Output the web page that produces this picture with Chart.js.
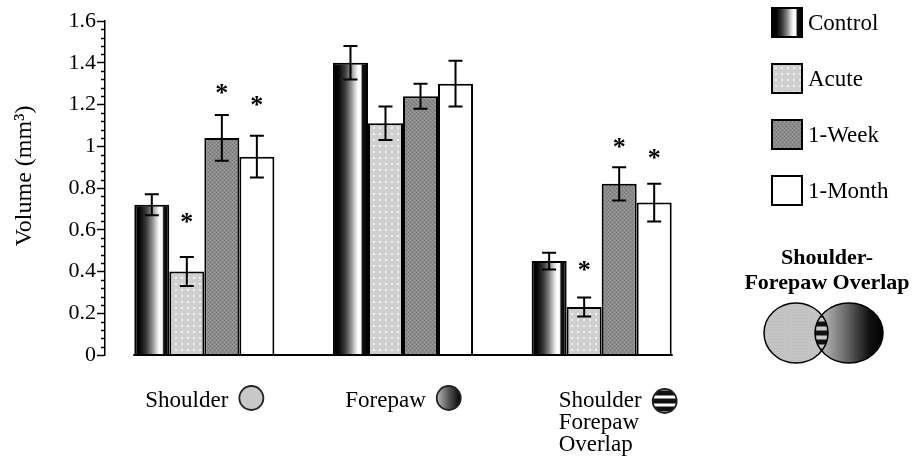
<!DOCTYPE html>
<html>
<head>
<meta charset="utf-8">
<script src="https://cdn.jsdelivr.net/npm/chart.js@4"></script>
<style>
html,body{margin:0;padding:0;background:#fff;}
canvas{display:block;}
</style>
</head>
<body>
<canvas id="c" width="924" height="459"></canvas>
<script>
// ---- data ----
const categories = ['Shoulder', 'Forepaw', 'Shoulder Forepaw Overlap'];
const categoryLines = [['Shoulder'], ['Forepaw'], ['Shoulder', 'Forepaw', 'Overlap']];
const seriesNames = ['Control', 'Acute', '1-Week', '1-Month'];
const control = [0.72, 1.40, 0.45];
const acute = [0.40, 1.11, 0.23];
const oneWeek = [1.04, 1.24, 0.82];
const oneMonth = [0.95, 1.30, 0.73];
const controlErr = [0.05, 0.08, 0.04];
const acuteErr = [0.07, 0.08, 0.045];
const oneWeekErr = [0.11, 0.06, 0.08];
const oneMonthErr = [0.10, 0.11, 0.09];
// asterisk (significance) levels, in volume units; null = not significant
const controlStar = [null, null, null];
const acuteStar = [0.66, null, 0.43];
const oneWeekStar = [1.28, null, 1.02];
const oneMonthStar = [1.22, null, 0.97];
const yTicks = [0, 0.2, 0.4, 0.6, 0.8, 1, 1.2, 1.4, 1.6];
const yTitle = 'Volume (mm³)';
const vennTitle = ['Shoulder-', 'Forepaw Overlap'];

const seriesValues = [control, acute, oneWeek, oneMonth];
const seriesErrs = [controlErr, acuteErr, oneWeekErr, oneMonthErr];
const seriesStars = [controlStar, acuteStar, oneWeekStar, oneMonthStar];

const FONT = '"Liberation Serif", "Times New Roman", serif';

// ---- fills ----
function makePattern(draw, size) {
  const c = document.createElement('canvas');
  c.width = size; c.height = size;
  draw(c.getContext('2d'));
  return document.getElementById('c').getContext('2d').createPattern(c, 'repeat');
}
const acutePattern = makePattern(g => {
  g.fillStyle = '#d0d0d0'; g.fillRect(0, 0, 6, 6);
  g.fillStyle = '#f0f0f0'; g.fillRect(1, 1, 2, 2);
}, 6);
const weekPattern = makePattern(g => {
  g.fillStyle = '#8a8a8a'; g.fillRect(0, 0, 4, 4);
  g.fillStyle = '#767676'; g.fillRect(0, 0, 1, 1); g.fillRect(2, 2, 1, 1);
  g.fillStyle = '#9c9c9c'; g.fillRect(2, 0, 1, 1); g.fillRect(0, 2, 1, 1);
}, 4);
const shoulderPattern = makePattern(g => {
  g.fillStyle = '#c4c4c4'; g.fillRect(0, 0, 3, 3);
  g.fillStyle = '#bababa'; g.fillRect(0, 0, 1, 1);
}, 3);

function cylinder(ctx, x0, x1) {
  const g = ctx.createLinearGradient(x0, 0, x1, 0);
  g.addColorStop(0, '#000');
  g.addColorStop(0.16, '#050505');
  g.addColorStop(0.34, '#3a3a3a');
  g.addColorStop(0.5, '#858585');
  g.addColorStop(0.64, '#d8d8d8');
  g.addColorStop(0.72, '#ffffff');
  g.addColorStop(0.8, '#f6f6f6');
  g.addColorStop(0.84, '#111');
  g.addColorStop(1, '#000');
  return g;
}

const fills = ['#555', acutePattern, weekPattern, '#ffffff'];

const datasets = seriesNames.map((name, d) => ({
  label: name,
  data: seriesValues[d],
  backgroundColor: fills[d],
  borderColor: '#000',
  borderWidth: 2,
  borderSkipped: 'bottom'
}));

// ---- plugin ----
const deco = {
  id: 'deco',
  beforeDatasetsDraw(chart) {
    const ctx = chart.ctx;
    const meta = chart.getDatasetMeta(0);
    meta.data.forEach(el => {
      const x0 = el.x - el.width / 2, x1 = el.x + el.width / 2;
      el.options = Object.assign({}, el.options, { backgroundColor: cylinder(ctx, x0, x1) });
    });
  },
  afterDatasetsDraw(chart) {
    const ctx = chart.ctx;
    const ys = chart.scales.y;
    const y0 = ys.getPixelForValue(0);
    // baseline
    const first = chart.getDatasetMeta(0).data[0];
    const last = chart.getDatasetMeta(seriesNames.length - 1).data[categories.length - 1];
    ctx.save();
    ctx.strokeStyle = '#000';
    ctx.lineWidth = 2;
    ctx.beginPath();
    ctx.moveTo(first.x - first.width / 2 - 1, y0);
    ctx.lineTo(last.x + last.width / 2 + 1, y0);
    ctx.stroke();
    // error bars
    ctx.lineWidth = 2;
    seriesNames.forEach((n, d) => {
      chart.getDatasetMeta(d).data.forEach((el, i) => {
        const v = seriesValues[d][i], e = seriesErrs[d][i];
        const t = ys.getPixelForValue(v + e), b = ys.getPixelForValue(v - e);
        const cw = 7;
        ctx.beginPath();
        ctx.moveTo(el.x, t); ctx.lineTo(el.x, b);
        ctx.moveTo(el.x - cw, t); ctx.lineTo(el.x + cw, t);
        ctx.moveTo(el.x - cw, b); ctx.lineTo(el.x + cw, b);
        ctx.stroke();
        const s = seriesStars[d][i];
        if (s !== null && s !== undefined) {
          ctx.fillStyle = '#000';
          ctx.font = 'bold 26px ' + FONT;
          ctx.textAlign = 'center';
          ctx.textBaseline = 'alphabetic';
          ctx.fillText('*', el.x, ys.getPixelForValue(s) + 13);
        }
      });
    });
    ctx.restore();
  },
  afterDraw(chart) {
    const ctx = chart.ctx;
    const ys = chart.scales.y;
    const area = chart.chartArea;
    ctx.save();
    // minor ticks
    ctx.strokeStyle = '#000';
    ctx.lineWidth = 1.5;
    for (let k = 0; k <= 40; k++) {
      if (k % 5 === 0) continue;
      const py = Math.round(ys.getPixelForValue(k * 0.04)) + 0.5;
      ctx.beginPath();
      ctx.moveTo(area.left - 4, py); ctx.lineTo(area.left, py);
      ctx.stroke();
    }
    // y-axis title
    ctx.save();
    ctx.fillStyle = '#000';
    ctx.font = '24px ' + FONT;
    ctx.textAlign = 'center';
    ctx.textBaseline = 'middle';
    ctx.translate(area.left - 80, (area.top + area.bottom) / 2 - 12);
    ctx.rotate(-Math.PI / 2);
    ctx.fillText(yTitle, 0, 0);
    ctx.restore();
    // category labels with region symbols
    ctx.fillStyle = '#000';
    ctx.font = '23px ' + FONT;
    ctx.textBaseline = 'alphabetic';
    ctx.textAlign = 'left';
    const xs = chart.scales.x;
    const baseY = ys.getPixelForValue(0);
    categoryLines.forEach((lines, i) => {
      const cx = xs.getPixelForValue(i);
      const tw = ctx.measureText(lines[0]).width;
      const r = 12, gap = 11;
      const total = tw + gap + 2 * r;
      let left = cx - total / 2;
      if (lines.length > 1) left += 16;
      lines.forEach((ln, j) => {
        ctx.fillText(ln, left, baseY + 52 + j * 22);
      });
      const ccx = left + tw + gap + r;
      const ccy = baseY + 43 + (lines.length > 1 ? 3 : 0);
      drawSymbol(ctx, i, ccx, ccy, r);
    });
    // legend
    const lx = chart.width - 152;
    const ly = 8;
    const step = 56;
    const fillsLegend = [null, acutePattern, weekPattern, '#fff'];
    seriesNames.forEach((name, d) => {
      const y = ly + d * step;
      ctx.fillStyle = d === 0 ? cylinder(ctx, lx, lx + 30) : fillsLegend[d];
      ctx.fillRect(lx, y, 30, 29);
      ctx.strokeStyle = '#000';
      ctx.lineWidth = 2;
      ctx.strokeRect(lx, y, 30, 29);
      ctx.fillStyle = '#000';
      ctx.font = '23px ' + FONT;
      ctx.textBaseline = 'middle';
      ctx.textAlign = 'left';
      ctx.fillText(name, lx + 36, y + 16);
    });
    // Venn diagram
    const vx = chart.width - 97;
    ctx.font = 'bold 22px ' + FONT;
    ctx.textAlign = 'center';
    ctx.textBaseline = 'alphabetic';
    ctx.fillText(vennTitle[0], vx, 264);
    ctx.fillText(vennTitle[1], vx, 289);
    const L = { x: vx - 31, y: 333, rx: 32, ry: 30 };
    const R = { x: vx + 22, y: 333, rx: 34, ry: 30 };
    const ell = (c) => { ctx.beginPath(); ctx.ellipse(c.x, c.y, c.rx, c.ry, 0, 0, Math.PI * 2); };
    ell(L); ctx.fillStyle = shoulderPattern; ctx.fill();
    const rg = ctx.createLinearGradient(R.x - R.rx, 0, R.x + R.rx, 0);
    rg.addColorStop(0, '#d0d0d0'); rg.addColorStop(0.45, '#6a6a6a'); rg.addColorStop(0.8, '#111'); rg.addColorStop(1, '#000');
    ell(R); ctx.fillStyle = rg; ctx.fill();
    ctx.save();
    ell(L); ctx.clip();
    ell(R); ctx.clip();
    ctx.fillStyle = '#c8c8c8';
    ctx.fillRect(L.x, L.y - L.ry, 60, 2 * L.ry);
    ctx.fillStyle = '#111';
    for (let k = -3; k <= 3; k++) {
      ctx.fillRect(L.x, L.y + k * 9 - 2.5, 60, 5);
    }
    ctx.restore();
    ctx.strokeStyle = '#000';
    ctx.lineWidth = 1.5;
    ell(L); ctx.stroke();
    ell(R); ctx.stroke();
    ctx.restore();
  }
};

function drawSymbol(ctx, i, x, y, r) {
  ctx.save();
  ctx.beginPath();
  ctx.arc(x, y, r, 0, Math.PI * 2);
  if (i === 0) {
    ctx.fillStyle = '#c8c8c8';
    ctx.fill();
  } else if (i === 1) {
    const g = ctx.createLinearGradient(x - r, 0, x + r, 0);
    g.addColorStop(0, '#bbbbbb'); g.addColorStop(0.5, '#555'); g.addColorStop(1, '#000');
    ctx.fillStyle = g; ctx.fill();
  } else {
    ctx.fillStyle = '#fff'; ctx.fill();
    ctx.save(); ctx.clip();
    ctx.fillStyle = '#111';
    for (let k = -2; k <= 2; k++) ctx.fillRect(x - r, y + k * 8 - 2.5, 2 * r, 5);
    ctx.restore();
  }
  ctx.strokeStyle = '#222';
  ctx.lineWidth = 1.8;
  ctx.beginPath();
  ctx.arc(x, y, r, 0, Math.PI * 2);
  ctx.stroke();
  ctx.restore();
}

new Chart(document.getElementById('c'), {
  type: 'bar',
  data: { labels: categories, datasets },
  options: {
    responsive: false,
    animation: false,
    devicePixelRatio: 1,
    layout: { padding: { left: 0, top: 21, right: 223, bottom: 104 } },
    plugins: { legend: { display: false }, tooltip: { enabled: false } },
    datasets: { bar: { categoryPercentage: 0.705, barPercentage: 1.0 } },
    scales: {
      x: { display: false, offset: true },
      y: {
        min: 0, max: 1.6,
        afterBuildTicks(scale) { scale.ticks = yTicks.map(v => ({ value: v })); },
        afterFit(scale) { scale.width = 105; },
        ticks: {
          color: '#000',
          padding: 1,
          font: { family: FONT, size: 22 },
          callback: v => String(+Number(v).toFixed(1))
        },
        grid: { drawOnChartArea: false, drawTicks: true, tickLength: 8, tickColor: '#000', tickWidth: 1.5 },
        border: { display: true, color: '#000', width: 1.5 },
        title: { display: false, text: yTitle }
      }
    }
  },
  plugins: [deco]
});
</script>
</body>
</html>
